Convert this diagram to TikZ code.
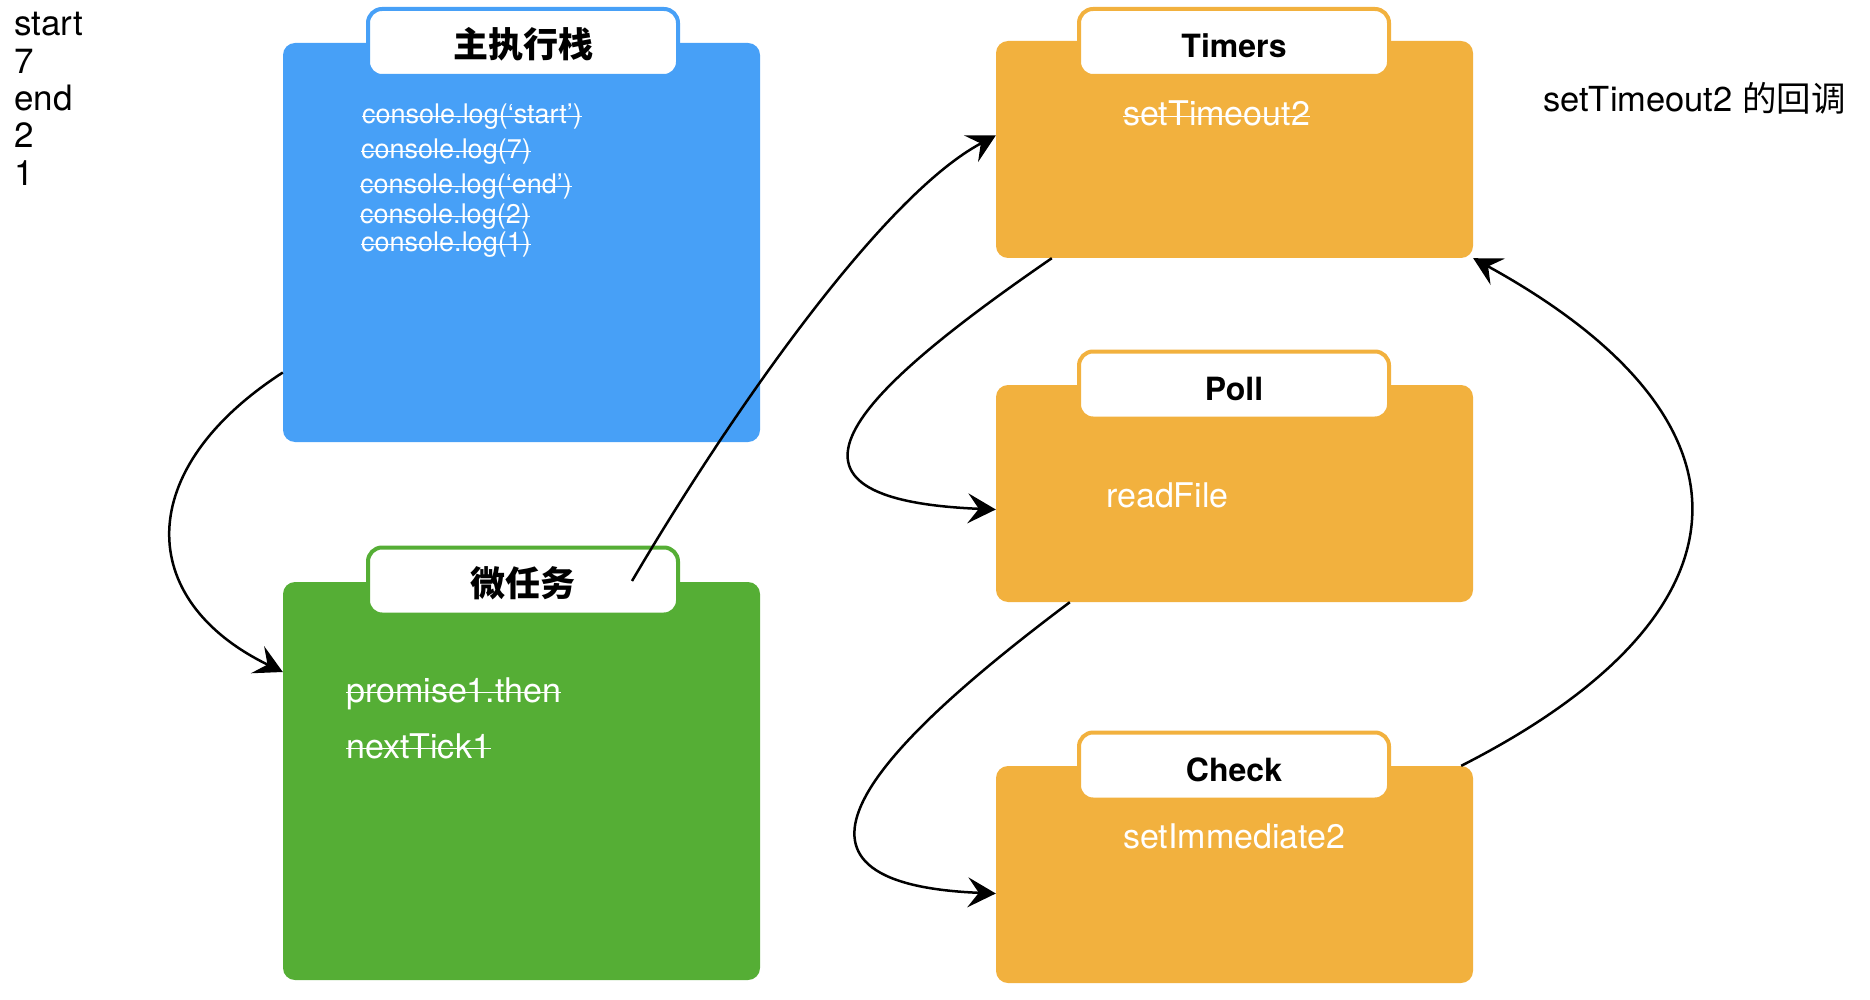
\documentclass[tikz,border=0pt]{standalone}
\usepackage{fontspec}
\setmainfont{TeX Gyre Heros}
\newfontfamily\cjk{Noto Sans CJK SC}
\usepackage{tikz}
\usetikzlibrary{arrows.meta, positioning}

\definecolor{stackblue}{RGB}{71,160,247}
\definecolor{microgreen}{RGB}{85,174,53}
\definecolor{phaseorange}{RGB}{242,177,62}

\begin{document}
\begin{tikzpicture}[x=1pt, y=-1pt, >={Stealth[length=28pt, width=30pt, inset=11pt]},
    box/.style={fill=#1, rounded corners=12pt, minimum width=477pt, inner sep=0pt},
    tab/.style={draw=#1, line width=4pt, fill=white, rounded corners=14pt, minimum width=310pt, minimum height=67pt, inner sep=0pt, text height=30pt, text depth=0pt, font=\fontsize{32}{36}\selectfont\bfseries},
    outtxt/.style={anchor=base west, inner sep=0pt, font=\fontsize{35}{37}\selectfont},
    logtxt/.style={anchor=base west, inner sep=0pt, text=white, font=\fontsize{27}{30}\selectfont},
    cbtxt/.style={anchor=base west, inner sep=0pt, text=white, font=\fontsize{34}{36}\selectfont},
    strikeline/.style={draw=white, line width=1.8pt},
    flow/.style={->, line width=2.5pt, black}]
    \useasboundingbox (0,0) rectangle (1870,1000);

    % printed output
    \node[outtxt] (out1) at (14,36) {start};
    \node[outtxt] (out2) at (14,73.3) {7};
    \node[outtxt] (out3) at (14,110.6) {end};
    \node[outtxt] (out4) at (14,147.9) {2};
    \node[outtxt] (out5) at (14,185.2) {1};

    % call stack and microtasks
    \node[box=stackblue, minimum height=399pt] (stack) at (521.5,242.5) {};
    \node[tab=stackblue] (stacktab) at (523,42.5) {\fontsize{35}{36}\selectfont\cjk\bfseries 主执行栈};
    \node[logtxt] (log1) at (362,124) {console.log(‘start’)};
    \node[logtxt] (log2) at (361,159) {console.log(7)};
    \node[logtxt] (log3) at (360,194) {console.log(‘end’)};
    \node[logtxt] (log4) at (360,224) {console.log(2)};
    \node[logtxt] (log5) at (361,252) {console.log(1)};

    \node[box=microgreen, minimum height=398pt] (micro) at (521.5,781) {};
    \node[tab=microgreen] (microtab) at (523,581) {\fontsize{35}{36}\selectfont\cjk\bfseries 微任务};
    \node[cbtxt] (then1) at (346,702) {promise1.then};
    \node[cbtxt] (tick1) at (346,758) {nextTick1};

    % event loop phases
    \node[box=phaseorange, minimum height=217pt] (timers) at (1234.5,149.5) {};
    \node[tab=phaseorange] (timerstab) at (1234,42.5) {Timers};
    \node[cbtxt] (timercb) at (1123,126) {setTimeout2};

    \node[box=phaseorange, minimum height=217pt] (poll) at (1234.5,493.5) {};
    \node[tab=phaseorange] (polltab) at (1234,385) {Poll};
    \node[cbtxt] (readfile) at (1106,507) {readFile};

    \node[box=phaseorange, minimum height=217pt] (check) at (1234.5,874.5) {};
    \node[tab=phaseorange] (checktab) at (1234,766) {Check};
    \node[cbtxt] (immediate2) at (1123,848) {setImmediate2};

    \node[outtxt, font=\fontsize{34.5}{36}\selectfont] (note) at (1543,112) {setTimeout2 {\cjk 的回调}};

    % already run: struck out
    \foreach \n/\h in {log1/7.5, log2/7.5, log3/7.5, log4/7.5, log5/7.5, then1/9.5, tick1/9.5}
        \draw[strikeline] ([yshift=\h pt]\n.base west) -- ([yshift=\h pt]\n.base east);
    \draw[strikeline] ([yshift=9.5pt]timercb.base west) -- ([yshift=9.5pt]timercb.base east);

    \draw[flow] ([yshift=-130pt]stack.west) .. controls +(-150,97) and +(-148,-72) .. ([yshift=109pt]micro.west);
    \draw[flow] ([xshift=-48pt]microtab.east) .. controls +(100,-170) and +(-113,60) .. ([yshift=14pt]timers.west);
    \draw[flow] ([xshift=56pt]timers.south west) .. controls +(-202,139) and +(-246,-10) .. ([yshift=-16pt]poll.west);
    \draw[flow] ([xshift=74pt]poll.south west) .. controls +(-200,150) and +(-246,-10) .. ([yshift=-19pt]check.west);
    \draw[flow] ([xshift=-12pt]check.north east) .. controls +(295,-150) and +(300,165) .. (timers.south east);
\end{tikzpicture}
\end{document}
